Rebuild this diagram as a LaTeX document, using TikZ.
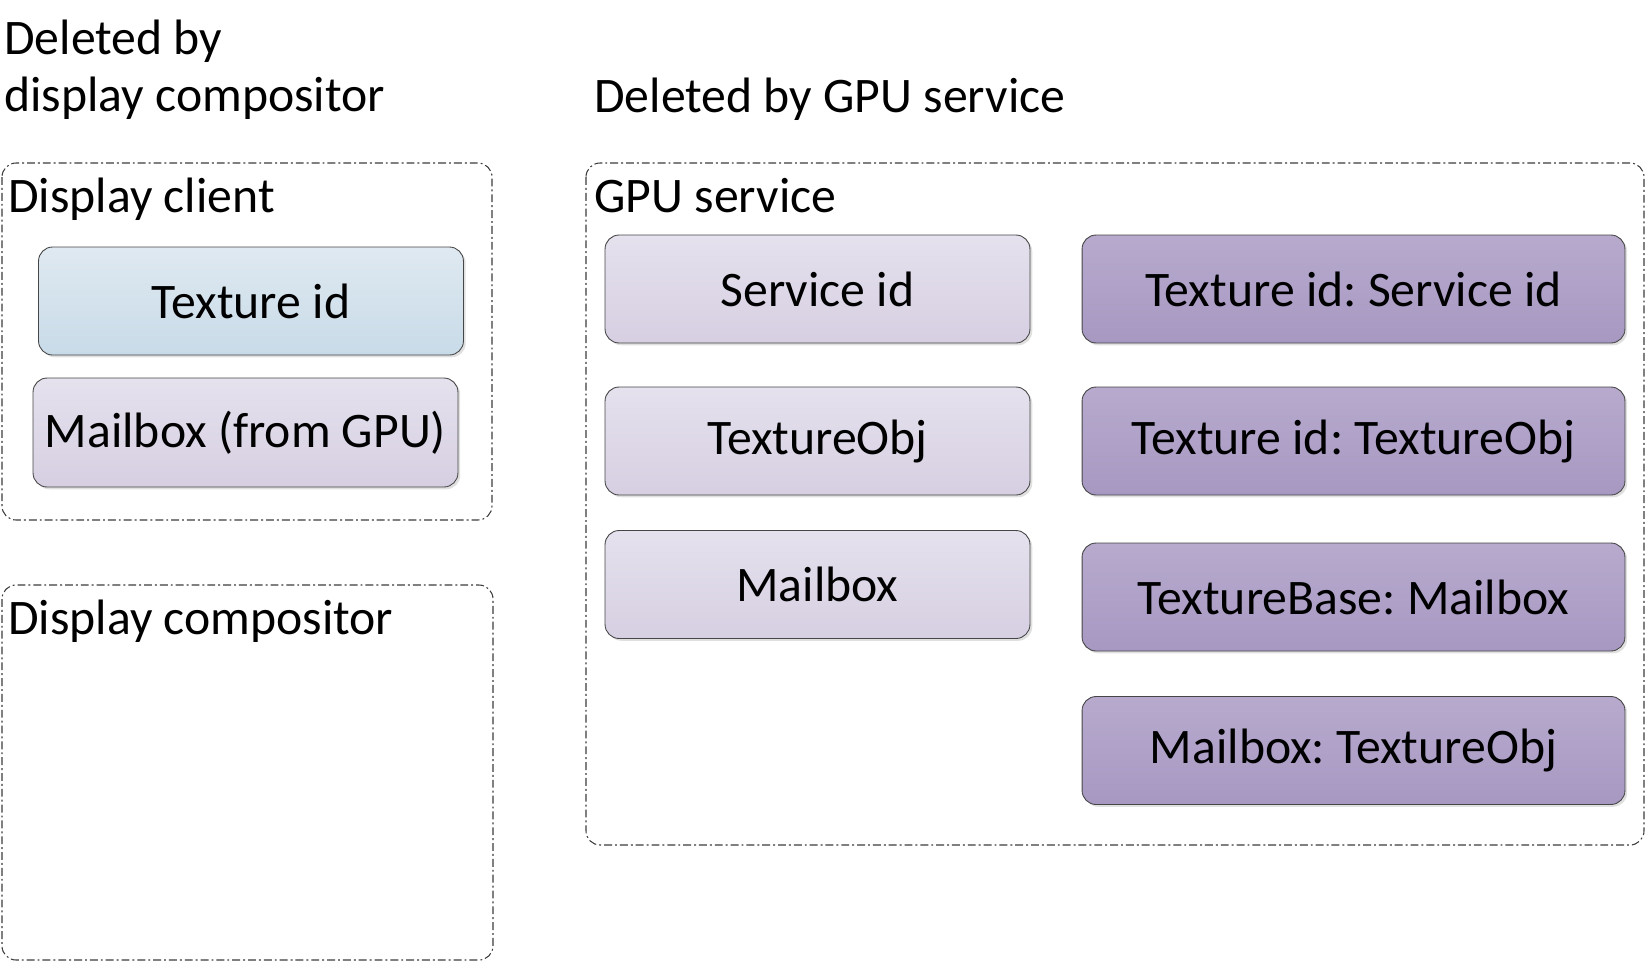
\documentclass[tikz,border=0pt]{standalone}
\usepackage{fontspec}
\setmainfont{Carlito}
\frenchspacing
\usetikzlibrary{shadows}
\definecolor{clienttop}{RGB}{223,233,241}
\definecolor{clientbot}{RGB}{200,219,232}
\definecolor{lilactop}{RGB}{229,225,237}
\definecolor{lilacbot}{RGB}{214,207,226}
\definecolor{plumtop}{RGB}{183,170,205}
\definecolor{plumbot}{RGB}{167,152,194}
\definecolor{boxedge}{RGB}{70,70,70}
\definecolor{groupedge}{RGB}{60,60,60}

\begin{document}
\begin{tikzpicture}[x=0.02cm, y=-0.02cm,
    every node/.style={font=\fontsize{28.3}{32.4}\selectfont},
    group/.style={draw=groupedge, line width=0.6pt, rounded corners=8pt,
        dash pattern=on 4.5pt off 1.7pt on 1.1pt off 1.7pt},
    heading/.style={anchor=base west, inner sep=0pt},
    item/.style={draw=boxedge, line width=0.5pt, rounded corners=8pt,
        minimum width=8.5cm, minimum height=2.16cm,
        drop shadow={shadow xshift=1.3pt, shadow yshift=-1.3pt, fill=black!35, opacity=0.35}},
    client/.style={item, top color=clienttop, bottom color=clientbot},
    lilac/.style={item, top color=lilactop, bottom color=lilacbot},
    plum/.style={item, top color=plumtop, bottom color=plumbot, minimum width=10.86cm}]

    \useasboundingbox (0,0) rectangle (1647,965);

    % captions above the groups (base = last line)
    \node[heading, align=left] (delcomp) at (4,111) {Deleted by\\display compositor};
    \node[heading] (delgpu) at (594,112) {Deleted by GPU service};

    % display client
    \draw[group] (2,163) rectangle (492,520);
    \node[heading] (clientlbl) at (8,212) {Display client};
    \node[client] (texid) at (251,301) {Texture id};
    \node[lilac, minimum height=2.18cm] (mbgpu) at (245.5,432.5) {Mailbox (from GPU)};

    % display compositor
    \draw[group] (2,585) rectangle (493,960);
    \node[heading] (complbl) at (8,634) {Display compositor};

    % gpu service
    \draw[group] (586,163) rectangle (1644,845);
    \node[heading] (gpulbl) at (594,212) {GPU service};

    \node[lilac] (svcid) at (817.5,289) {Service id};
    \node[lilac] (texobj) at (817.5,441) {TextureObj};
    \node[lilac] (mbox) at (817.5,584.5) {Mailbox};

    \node[plum] (mapsvc) at (1353.5,289) {Texture id: Service id};
    \node[plum] (mapobj) at (1353.5,441) {Texture id: TextureObj};
    \node[plum] (mapbase) at (1353.5,597) {TextureBase: Mailbox};
    \node[plum] (mapmb) at (1353.5,750.5) {Mailbox: TextureObj};
\end{tikzpicture}
\end{document}
